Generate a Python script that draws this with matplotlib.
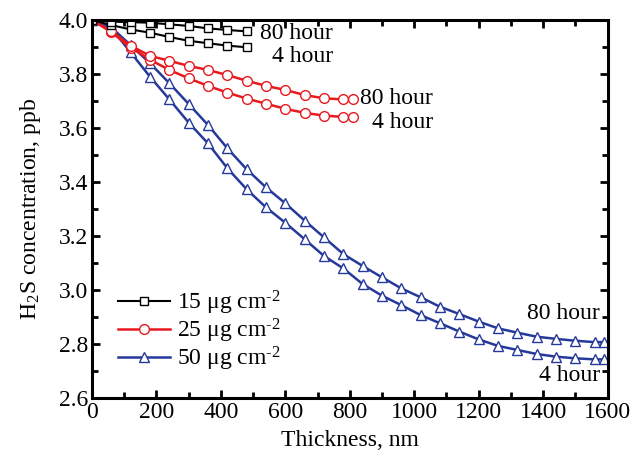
import matplotlib
matplotlib.use('Agg')
import matplotlib.pyplot as plt
from matplotlib.ticker import MultipleLocator

plt.rcParams['font.family'] = ['Liberation Serif', 'DejaVu Serif']
plt.rcParams['mathtext.fontset'] = 'custom'
plt.rcParams['mathtext.rm'] = 'Liberation Serif'
plt.rcParams['mathtext.it'] = 'Liberation Serif:italic'

# thickness (nm)
x15 = [0, 60, 120, 180, 240, 300, 360, 420, 480]
x25 = [0, 60, 120, 180, 240, 300, 360, 420, 480, 540, 600, 660, 720, 780, 810]
x50 = [0, 60, 120, 180, 240, 300, 360, 420, 480, 540, 600, 660, 720, 780,
       840, 900, 960, 1020, 1080, 1140, 1200, 1260, 1320, 1380, 1440, 1500,
       1560, 1590]

# H2S concentration (ppb)
y15_80h = [4.0, 3.994, 3.992, 3.990, 3.984, 3.978, 3.969, 3.963, 3.958]
y15_4h = [4.0, 3.981, 3.965, 3.953, 3.937, 3.923, 3.914, 3.905, 3.899]
y25_80h = [4.0, 3.958, 3.905, 3.867, 3.849, 3.830, 3.815, 3.796, 3.775,
           3.756, 3.741, 3.722, 3.710, 3.706, 3.706]
y25_4h = [4.0, 3.955, 3.898, 3.853, 3.815, 3.784, 3.756, 3.731, 3.709,
          3.690, 3.671, 3.656, 3.646, 3.641, 3.640]
y50_80h = [4.0, 3.972, 3.907, 3.840, 3.766, 3.689, 3.611, 3.525, 3.447,
           3.380, 3.321, 3.257, 3.195, 3.133, 3.089, 3.047, 3.006, 2.973,
           2.938, 2.911, 2.883, 2.858, 2.842, 2.827, 2.819, 2.812, 2.807, 2.807]
y50_4h = [4.0, 3.970, 3.880, 3.790, 3.706, 3.620, 3.543, 3.451, 3.373,
          3.306, 3.249, 3.188, 3.126, 3.080, 3.022, 2.979, 2.944, 2.907,
          2.877, 2.846, 2.817, 2.793, 2.778, 2.763, 2.753, 2.747, 2.743, 2.743]

black = 'black'
red = '#e8191f'
blue = '#25399a'

fig = plt.figure(figsize=(6.42, 4.63), dpi=100)
ax = fig.add_axes([0.1433, 0.1404, 0.8030, 0.8164])

ax.plot(x50, y50_4h, color=blue, lw=1.8, marker='^', ms=7.5, mfc='white', mec=blue, mew=1.0)
ax.plot(x50, y50_80h, color=blue, lw=1.8, marker='^', ms=7.5, mfc='white', mec=blue, mew=1.0,
        label='50 \u03bcg cm$^{\\text{-}2}$')
ax.plot(x25, y25_4h, color=red, lw=1.8, marker='o', ms=7, mfc='white', mec=red, mew=1.0)
ax.plot(x25, y25_80h, color=red, lw=1.8, marker='o', ms=7, mfc='white', mec=red, mew=1.0,
        label='25 \u03bcg cm$^{\\text{-}2}$')
ax.plot(x15, y15_4h, color=black, lw=1.5, marker='s', ms=6, mfc='white', mec=black, mew=1.0)
ax.plot(x15, y15_80h, color=black, lw=1.5, marker='s', ms=6, mfc='white', mec=black, mew=1.0,
        label='15 \u03bcg cm$^{\\text{-}2}$')

fs = 17
ax.text(748, 3.950, '80 hour', ha='right', va='center', fontsize=fs)
ax.text(748, 3.866, '4 hour', ha='right', va='center', fontsize=fs)
ax.text(1058, 3.709, '80 hour', ha='right', va='center', fontsize=fs)
ax.text(1058, 3.622, '4 hour', ha='right', va='center', fontsize=fs)
ax.text(1577, 2.913, '80 hour', ha='right', va='center', fontsize=fs)
ax.text(1577, 2.683, '4 hour', ha='right', va='center', fontsize=fs)

ax.set_xlim(0, 1600)
ax.set_ylim(2.6, 4.0)
ax.xaxis.set_major_locator(MultipleLocator(200))
ax.xaxis.set_minor_locator(MultipleLocator(100))
ax.yaxis.set_major_locator(MultipleLocator(0.2))
ax.yaxis.set_minor_locator(MultipleLocator(0.1))
ax.yaxis.set_major_formatter(plt.FormatStrFormatter('%.1f'))
ax.tick_params(which='both', direction='in', top=True, right=True, labelsize=fs, width=2)
ax.tick_params(which='major', length=6, pad=3)
ax.tick_params(which='minor', length=4)
for s in ax.spines.values():
    s.set_linewidth(2.2)

ax.set_xlabel('Thickness, nm', fontsize=fs, labelpad=5)
ax.set_ylabel('H$_2$S concentration, ppb', fontsize=fs, labelpad=11)

h, l = ax.get_legend_handles_labels()
ax.legend(h[::-1], l[::-1], loc='lower left', bbox_to_anchor=(0.01, 0.01), frameon=False,
          fontsize=fs, handlelength=2.2, handletextpad=0.3, labelspacing=0.0)

fig.savefig('out.png', dpi=100)
